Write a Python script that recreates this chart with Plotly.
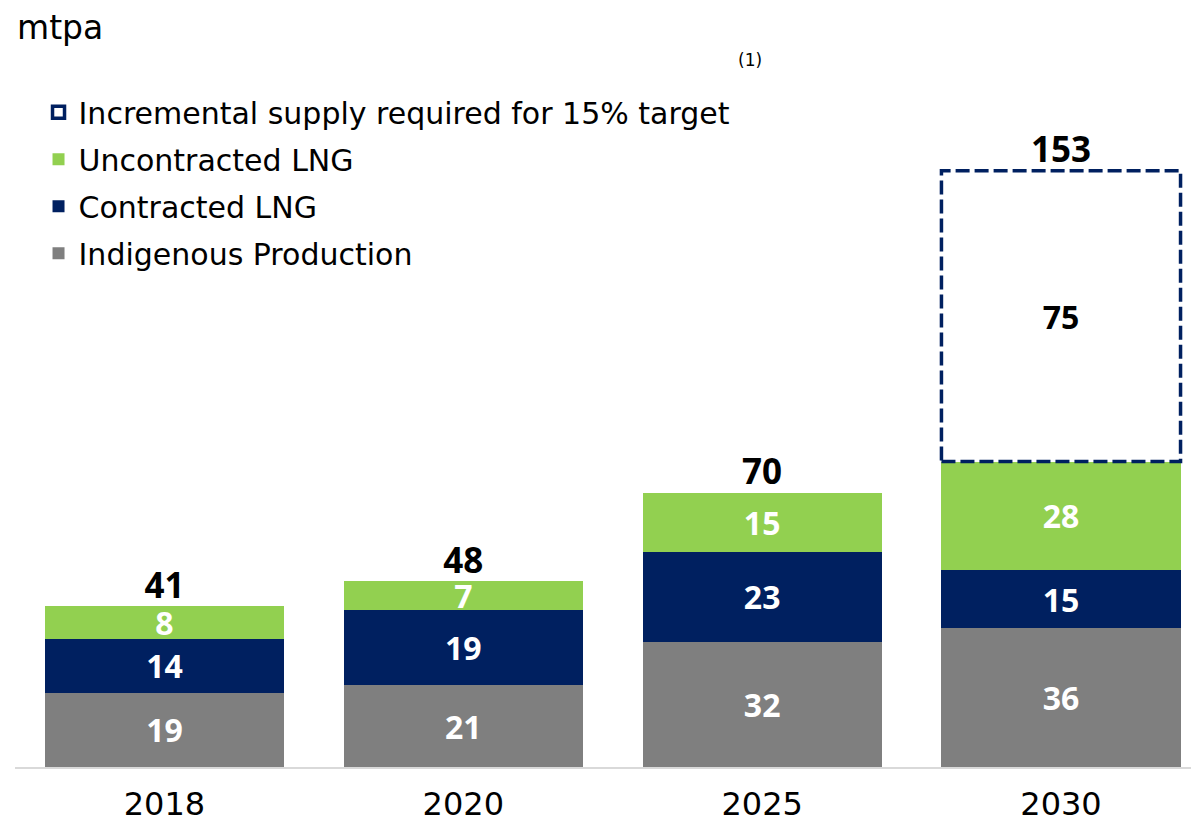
import plotly.graph_objects as go

years = ["2018", "2020", "2025", "2030"]
indigenous = [19.0, 21.0, 32.0, 35.6]
contracted = [13.8, 19.2, 23.2, 14.9]
uncontracted = [8.4, 7.4, 15.0, 27.8]
incremental = [None, None, None, 74.6]

GREY = "#7F7F7F"
NAVY = "#002060"
GREEN = "#92D050"
TEXT_FONT = "DejaVu Sans"
NUM_FONT = "Open Sans"

fig = go.Figure()

series = [
    ("Indigenous Production", indigenous, GREY, 4),
    ("Contracted LNG", contracted, NAVY, 3),
    ("Uncontracted LNG", uncontracted, GREEN, 2),
]
for name, vals, color, rank in series:
    fig.add_bar(
        x=years, y=vals, name=name, marker_color=color, marker_line_width=0,
        texttemplate="%{y:.0f}", textposition="inside", insidetextanchor="middle",
        constraintext="none", textangle=0,
        textfont=dict(family=NUM_FONT, size=32, color="white", weight="bold"),
        legendrank=rank, legendgroup=name, hoverinfo="skip",
    )

# incremental block: invisible bar carries the label, dashed outline drawn as a shape
fig.add_bar(
    x=years, y=incremental, marker_color="rgba(0,0,0,0)", marker_line_width=0,
    texttemplate="%{y:.0f}", textposition="inside",
    insidetextanchor="middle", constraintext="none", textangle=0,
    textfont=dict(family=NUM_FONT, size=32, color="black", weight="bold"),
    showlegend=False, hoverinfo="skip",
)

stack = [a + b + c for a, b, c in zip(indigenous, contracted, uncontracted)]
tops = [s + (inc or 0) for s, inc in zip(stack, incremental)]

fig.add_scatter(
    x=years, y=tops, mode="text", text=[f"{t:.0f}" for t in tops],
    textposition="top center",
    textfont=dict(family=NUM_FONT, size=35, color="black", weight="bold"),
    showlegend=False, hoverinfo="skip", cliponaxis=False,
)

bar_half = 0.4
for i, inc in enumerate(incremental):
    if inc is None:
        continue
    fig.add_shape(
        type="rect", xref="x", yref="y",
        x0=i - bar_half, x1=i + bar_half, y0=stack[i], y1=stack[i] + inc,
        line=dict(color=NAVY, width=3.5, dash="14px,5px"), fillcolor="rgba(0,0,0,0)",
        showlegend=True, name="Incremental supply required for 15% target",
        legendrank=1, legendgroup="incremental", layer="above",
    )

fig.add_annotation(
    text="mtpa", xref="paper", yref="paper", x=0, y=0.974,
    xanchor="left", yanchor="middle", showarrow=False,
    font=dict(family=TEXT_FONT, size=33, color="black"),
)
fig.add_annotation(
    text="(1)", xref="paper", yref="paper", x=0.625, y=0.932,
    xanchor="center", yanchor="middle", showarrow=False,
    font=dict(family=TEXT_FONT, size=17, color="black"),
)

fig.update_layout(
    width=1183, height=817,
    barmode="stack", bargap=0.2,
    plot_bgcolor="white", paper_bgcolor="white",
    margin=dict(l=7, r=0, t=0, b=58, autoexpand=False),
    font=dict(family=TEXT_FONT, color="black"),
    legend=dict(
        x=0.02, y=0.897, xanchor="left", yanchor="top",
        traceorder="grouped", tracegroupgap=5,
        font=dict(family=TEXT_FONT, size=30, color="black"),
        bgcolor="rgba(0,0,0,0)", itemclick=False,
    ),
    showlegend=True,
)
fig.update_xaxes(
    range=[-0.5, 3.435], showline=True, linecolor="#D9D9D9", linewidth=2,
    showgrid=False, ticks="", tickfont=dict(family=TEXT_FONT, size=32, color="black"),
    ticklabelstandoff=8, automargin=False, fixedrange=True,
)
fig.update_yaxes(range=[0, 194.6], visible=False, showgrid=False, fixedrange=True)

fig.write_html("out.html")
